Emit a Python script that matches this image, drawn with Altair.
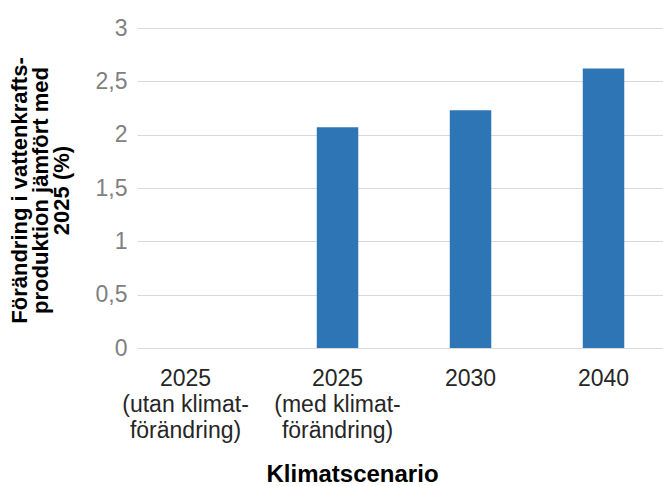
import altair as alt
import pandas as pd

# Scenario labels (each inner list is one line of the tick label)
scenario_lines = [
    ["2025", "(utan klimat-", "förändring)"],
    ["2025", "(med klimat-", "förändring)"],
    ["2030"],
    ["2040"],
]
# Change in hydropower production compared with 2025 (%)
change_pct = [0.0, 2.07, 2.23, 2.62]

y_ticks = [0, 0.5, 1, 1.5, 2, 2.5, 3]

scenarios = ["|".join(lines) for lines in scenario_lines]
df = pd.DataFrame({"scenario": scenarios, "change": change_pct})

FONT = "Liberation Sans"

bars = alt.Chart(df).mark_bar(color="#2E75B6").encode(
    x=alt.X(
        "scenario:N",
        sort=scenarios,
        scale=alt.Scale(paddingInner=0.688, paddingOuter=0.3215, align=0.547),
        axis=alt.Axis(
            title="Klimatscenario",
            titleFont=FONT,
            titleFontSize=24,
            titleFontWeight="bold",
            titleColor="#000000",
            titleX=215,
            titleY=133,
            titleAnchor="middle",
            titleAlign="center",
            titleBaseline="alphabetic",
            labelExpr="split(datum.label, '|')",
            labelFont=FONT,
            labelFontSize=23,
            labelColor="#262626",
            labelLineHeight=26,
            labelAngle=0,
            labelPadding=19,
            labelOverlap=False,
            labelOffset={"condition": {"test": "datum.index === 0", "value": -19}, "value": 0},
            domain=False,
            ticks=False,
            grid=False,
        ),
    ),
    y=alt.Y(
        "change:Q",
        scale=alt.Scale(domain=[0, 3], nice=False),
        axis=alt.Axis(
            title=["Förändring i vattenkrafts-", "produktion jämfört med", "2025 (%)"],
            titleFont=FONT,
            titleFontSize=22,
            titleFontWeight="bold",
            titleColor="#000000",
            titleLineHeight=21,
            titleAngle=-90,
            titleAlign="center",
            titleBaseline="top",
            titleX=-128,
            titleY=162,
            values=y_ticks,
            labelExpr="replace(format(datum.value, '.1~f'), '.', ',')",
            labelFont=FONT,
            labelFontSize=23,
            labelColor="#808080",
            labelPadding=10,
            domain=False,
            ticks=False,
            grid=True,
            gridColor="#D9D9D9",
            gridWidth=1,
        ),
    ),
)

chart = bars.properties(
    width=526,
    height=320,
    background="#ffffff",
    autosize=alt.AutoSizeParams(type="none"),
    padding={"left": 137, "top": 28, "right": 0, "bottom": 138},
).configure_view(stroke=None)

chart.save("out.html", embed_options={"renderer": "svg", "actions": False})
